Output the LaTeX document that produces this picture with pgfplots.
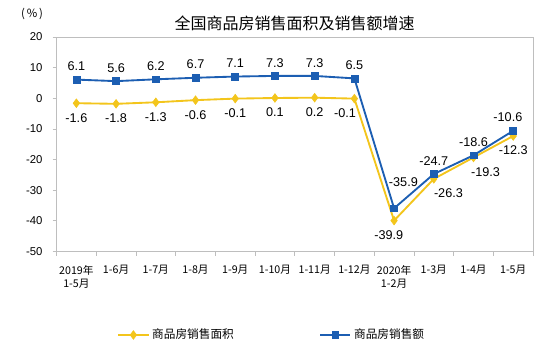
\documentclass[border=0pt]{standalone}
\usepackage{pgfplots}
\pgfplotsset{compat=1.18}
\usepackage{pgfplotstable}
\usepackage{fontspec}
\setmainfont{Liberation Sans}
\newfontfamily\cjk{Noto Sans CJK SC}
\definecolor{cyellow}{RGB}{243,197,28}
\definecolor{cblue}{RGB}{28,94,178}
\definecolor{cgrid}{RGB}{190,190,190}

\pgfplotstableread{
x y dx dy
0 6.1 0 0
1 5.6 0 0
2 6.2 0 0
3 6.7 0 0
4 7.1 0 0
5 7.3 0 0
6 7.3 0 0
7 6.5 0 0
8 -35.9 7 10
9 -24.7 0 0
10 -18.6 0 0
11 -10.6 -4 0
}\bluetab
\pgfplotstableread{
x y dx dy
0 -1.6 0 0
1 -1.8 0 0
2 -1.3 0 0
3 -0.6 0 0
4 -0.1 0 0
5 0.1 0 0
6 0.2 0 0
7 -0.1 -7 0
8 -39.9 -4 0
9 -26.3 11 0
10 -19.3 9 0
11 -12.3 0 0
}\yellowtab

\begin{document}
\begin{tikzpicture}
\path[use as bounding box] (0,0) rectangle (417pt,267.75pt);
\node[font=\cjk\fontsize{12pt}{14pt}\selectfont] at (221pt,250pt) {全国商品房销售面积及销售额增速};
\node[font=\cjk\fontsize{8.5pt}{10pt}\selectfont] at (24pt,257pt) {(\,\%\,)};
\begin{axis}[
  at={(42.4pt,79.1pt)}, anchor=south west,
  scale only axis, width=357.4pt, height=160.9pt,
  xmin=-0.5, xmax=11.5, ymin=-50, ymax=20,
  axis line style={cgrid, line width=0.6pt},
  xtick={0,...,11},
  major x tick style={draw=none},
  minor xtick={-0.5,0.5,...,11.5},
  minor tick length=3pt,
  minor x tick style={cgrid, line width=0.6pt},
  xticklabels={{2019年\\1-5月},1-6月,1-7月,1-8月,1-9月,1-10月,1-11月,1-12月,{2020年\\1-2月},1-3月,1-4月,1-5月},
  xticklabel style={font=\cjk\fontsize{8pt}{10pt}\selectfont, align=center, anchor=north, yshift=-4pt},
  ytick={-50,-40,...,20},
  yticklabel style={font=\fontsize{8.5pt}{10pt}\selectfont, xshift=-4pt},
  /pgf/number format/assume math mode=true,
  major tick length=3pt,
  tick align=outside,
  xtick pos=bottom, ytick pos=left,
  y tick style={cgrid, line width=0.6pt},
  legend columns=2,
  legend style={draw=none, fill=none, at={(0.127,-0.389)}, anchor=west,
    font=\cjk\fontsize{8.75pt}{10pt}\selectfont, inner xsep=0pt,
    /tikz/every even column/.append style={column sep=62pt}},
  legend cell align=left,
  legend image code/.code={\draw[mark repeat=2,mark phase=2] plot coordinates {(0cm,0cm)(0.4cm,0cm)(0.8cm,0cm)};},
  nodes near coords,
  every node near coord/.append style={font=\fontsize{9.5pt}{11pt}\selectfont, text=black},
  point meta=explicit,
]
\addplot[cyellow, line width=1.4pt, mark=diamond*, mark size=3.2pt, mark options={fill=cyellow, line width=0.5pt},
  visualization depends on={\thisrow{dx} \as \dx},
  visualization depends on={\thisrow{dy} \as \dy},
  nodes near coords style={anchor=north, yshift=-4pt+\dy pt, xshift=\dx pt},
  nodes near coords={\pgfmathprintnumber[fixed,precision=1,fixed zerofill]{\pgfplotspointmeta}}]
  table[x=x, y=y, meta=y] {\yellowtab};
\addlegendentry{商品房销售面积}
\addplot[cblue, line width=1.4pt, mark=square*, mark size=2.6pt, mark options={fill=cblue, line width=0.5pt},
  visualization depends on={\thisrow{dx} \as \dx},
  visualization depends on={\thisrow{dy} \as \dy},
  nodes near coords style={anchor=south, yshift=3pt+\dy pt, xshift=\dx pt},
  nodes near coords={\pgfmathprintnumber[fixed,precision=1,fixed zerofill]{\pgfplotspointmeta}}]
  table[x=x, y=y, meta=y] {\bluetab};
\addlegendentry{商品房销售额}
\end{axis}
\end{tikzpicture}
\end{document}
